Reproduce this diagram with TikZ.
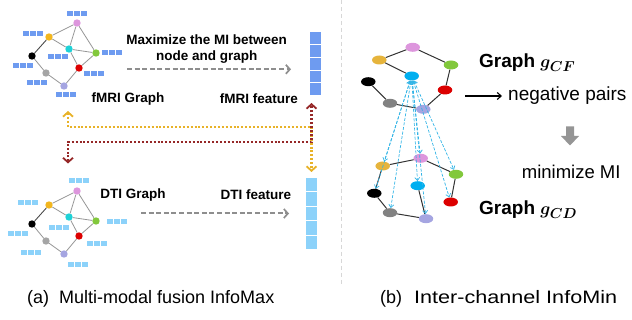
\documentclass[tikz,border=0pt]{standalone}
\usepackage{fontspec}
\setmainfont{Liberation Sans}
\newfontfamily\capwide[FakeStretch=1.2]{Liberation Sans}
\usetikzlibrary{arrows.meta,shapes.geometric}

% node colours
\definecolor{cPink}{RGB}{221,150,221}
\definecolor{cYel}{RGB}{242,182,30}
\definecolor{cCyanL}{RGB}{30,210,215}
\definecolor{cGreen}{RGB}{130,200,60}
\definecolor{cRed}{RGB}{220,0,0}
\definecolor{cGrayN}{RGB}{165,165,165}
\definecolor{cLav}{RGB}{165,165,225}
\definecolor{cCyanR}{RGB}{0,175,240}
\definecolor{cYelR}{RGB}{230,180,60}
\definecolor{cGrayR}{RGB}{130,130,130}
% feature colours
\definecolor{fBlue}{RGB}{110,155,240}
\definecolor{dBlue}{RGB}{140,210,250}
% connector colours
\definecolor{goldDot}{RGB}{232,178,40}
\definecolor{maroonDot}{RGB}{150,40,40}
\definecolor{linkBlue}{RGB}{50,180,230}
\definecolor{sepGray}{RGB}{215,215,215}
\definecolor{edgeGray}{RGB}{150,150,150}

\tikzset{
  dotnode/.style={circle,inner sep=0pt,minimum size=7.4pt,fill=#1},
  ellnode/.style={ellipse,inner sep=0pt,minimum width=14.5pt,minimum height=9pt,fill=#1},
  ledge/.style={draw=edgeGray,line width=0.8pt},
  redge/.style={draw=black!80,line width=1pt},
  lbl/.style={font=\fontsize{13.5}{16}\selectfont\bfseries,inner sep=0pt},
  rlbl/.style={font=\fontsize{19}{22}\selectfont,inner sep=0pt,anchor=west},
  captext/.style={font=\fontsize{18}{21}\selectfont,inner sep=0pt,anchor=west},
  flow/.style={draw=cGrayR!90,line width=2pt,dash pattern=on 5pt off 2.6pt,
    -{Straight Barb[length=4pt,width=9pt,line width=1.7pt]}},
  dotlink/.style={line width=2.1pt,dash pattern=on 2pt off 1.9pt,
    {Straight Barb[length=4.5pt,width=10pt,line width=1.8pt]}-{Straight Barb[length=4.5pt,width=10pt,line width=1.8pt]}},
  neglink/.style={draw=linkBlue,line width=0.7pt,dash pattern=on 3pt off 1.6pt,
    {Straight Barb[length=3pt,width=5pt]}-{Straight Barb[length=3pt,width=5pt]}},
  pics/triple/.style={code={
    \foreach \k in {0,1,2}{\fill[#1] ({-10+\k*7},-2.5) rectangle ({-4+\k*7},2.5);}
  }},
}

% brain graph with eight regions (left panel)
\newcommand{\brainnet}{%
  \node[dotnode=cPink]   (P) at (77,23) {};
  \node[dotnode=cYel]    (Y) at (49,37) {};
  \node[dotnode=cCyanL]  (C) at (69,49) {};
  \node[dotnode=cGreen]  (G) at (96,53) {};
  \node[dotnode=black]   (K) at (32,56) {};
  \node[dotnode=cRed]    (R) at (79,68) {};
  \node[dotnode=cGrayN]  (S) at (46,73) {};
  \node[dotnode=cLav]    (L) at (64,86) {};
  \draw[ledge] (Y) -- (P);
  \draw[ledge] (Y) -- (C);
  \draw[ledge] (P) -- (C);
  \draw[ledge] (P) -- (G);
  \draw[ledge] (C) -- (G);
  \draw[ledge] (C) -- (R);
  \draw[ledge] (G) -- (R);
  \draw[ledge] (R) -- (L);
  \draw[ledge] (L) -- (S);
  \draw[ledge] (S) -- (K);
  \draw[draw=black!70,line width=0.9pt] (K) -- (Y);
}

\begin{document}
\begin{tikzpicture}[x=1pt,y=-1pt]
\useasboundingbox (0,0) rectangle (632,320);

% ---------------- (a) multi-modal fusion InfoMax ----------------
% fMRI graph
\begin{scope}[name prefix=f-]
  \brainnet
\end{scope}
\foreach \x/\y in {77/13.5, 32.5/33.5, 112/52.7, 58/57, 23/65.5, 93.5/74, 37/82.3, 66/94.7}
  \pic at (\x,\y) {triple=fBlue};

% DTI graph
\begin{scope}[yshift=-168pt,name prefix=d-]
  \brainnet
\end{scope}
\foreach \x/\y in {79/180.5, 27.5/202.5, 116.5/222, 58.5/227.5, 17.5/234, 96.5/243.5, 30.5/252.3, 77.5/264.7}
  \pic at (\x,\y) {triple=dBlue};

% feature columns
\foreach \k in {0,...,4}
  \fill[fBlue] (310,{32.3+\k*12.8}) rectangle (321,{32.3+\k*12.8+11.8});
\node[inner sep=0pt,minimum width=11pt,minimum height=64pt] (fcol) at (315.5,64.3) {};
\foreach \k in {0,...,4}
  \fill[dBlue] (306,{178+\k*14.4}) rectangle (317,{178+\k*14.4+13.4});
\node[inner sep=0pt,minimum width=11pt,minimum height=72pt] (dcol) at (311.5,214) {};

% labels
\node[lbl,align=center] (maxmi) at (206.7,49) {Maximize the MI between\\node and graph};
\node[lbl] (fgraph) at (128,99) {fMRI Graph};
\node[lbl] (ffeat)  at (259,99) {fMRI feature};
\node[lbl] (dgraph) at (133,195) {DTI Graph};
\node[lbl] (dfeat)  at (256,195) {DTI feature};

% graph -> feature readouts
\coordinate (fa) at (127,69.3);
\coordinate (fb) at (291,69.3);
\draw[flow] (fa) -- (fb);
\coordinate (da) at (141,213.5);
\coordinate (db) at (289,213.5);
\draw[flow] (da) -- (db);

% cross-modal dotted links
\coordinate (g1) at (68,111);
\coordinate (g2) at (68,127);
\coordinate (g3) at (311.5,127);
\coordinate (g4) at (311.5,172);
\draw[dotlink,goldDot] (g1) -- (g2) -- (g3) -- (g4);
\coordinate (m1) at (68,163.5);
\coordinate (m2) at (68,141.7);
\coordinate (m3) at (311.5,141.7);
\coordinate (m4) at (311.5,103);
\draw[dotlink,maroonDot] (m1) -- (m2) -- (m3) -- (m4);

% panel separator
\coordinate (s1) at (341.5,0);
\coordinate (s2) at (341.5,284);
\draw[sepGray,line width=1pt,dash pattern=on 4pt off 3pt] (s1) -- (s2);

% ---------------- (b) inter-channel InfoMin ----------------
% graph g_CF
\node[ellnode=cPink]  (tP) at (412.7,47.3) {};
\node[ellnode=cYelR]  (tY) at (379.3,60) {};
\node[ellnode=cGreen] (tG) at (451,65) {};
\node[ellnode=black]  (tK) at (368.3,81.7) {};
\node[ellnode=cCyanR] (tC) at (411.7,76) {};
\node[ellnode=cRed]   (tR) at (445,90) {};
\node[ellnode=cGrayR] (tS) at (390,103.3) {};
\node[ellnode=cLav]   (tL) at (423.3,109.3) {};
\draw[redge] (tY) -- (tP);
\draw[redge] (tP) -- (tG);
\draw[redge] (tG) -- (tR);
\draw[redge] (tR) -- (tL);
\draw[redge] (tL) -- (tS);
\draw[redge] (tS) -- (tK);
\draw[redge] (tY) -- (tC);

% graph g_CD
\node[ellnode=cYelR]  (bY) at (382.7,166) {};
\node[ellnode=cPink]  (bP) at (420.7,158.3) {};
\node[ellnode=cGreen] (bG) at (456,174.3) {};
\node[ellnode=cCyanR] (bC) at (417.7,185.7) {};
\node[ellnode=black]  (bK) at (374.3,193.3) {};
\node[ellnode=cRed]   (bR) at (450.7,202) {};
\node[ellnode=cGrayR] (bS) at (390,212.7) {};
\node[ellnode=cLav]   (bL) at (426,218.7) {};
\draw[redge] (bY) -- (bP);
\draw[redge] (bP) -- (bG);
\draw[redge] (bG) -- (bR);
\draw[redge] (bY) -- (bK);
\draw[redge] (bK) -- (bS);
\draw[redge] (bS) -- (bL);
\draw[redge] (bC) -- (bL);

% negative pairs between the two graphs
\foreach \t in {bY,bP,bG,bC,bK,bR,bS,bL}
  \draw[neglink] (tC) -- (\t);

% right-hand labels
\node[rlbl,font=\fontsize{19}{22}\selectfont\bfseries\boldmath] (gcf) at (479,63) {Graph $g_{CF}$};
\node[rlbl] (neg) at (508,96) {negative pairs};
\coordinate (na) at (465,96);
\draw[line width=1.1pt,-{Straight Barb[length=4pt,width=7pt]}] (na) -- ([xshift=-6pt]neg.west);
\fill[cGrayR!85] (566,126.5) -- (574,126.5) -- (574,136) -- (579,136) -- (570,145.5) -- (561,136) -- (566,136) -- cycle;
\node[rlbl,font=\fontsize{18.5}{22}\selectfont] (minmi) at (521.7,171.7) {minimize MI};
\node[rlbl,font=\fontsize{19}{22}\selectfont\bfseries\boldmath] (gcd) at (479,210) {Graph $g_{CD}$};

% captions
\node[captext] (capa) at (27,299) {(a)\hspace{10pt}Multi-modal fusion InfoMax};
\node[captext] (capb) at (380,299) {(b)\hspace{12pt}{\capwide Inter-channel InfoMin}};
\end{tikzpicture}
\end{document}
